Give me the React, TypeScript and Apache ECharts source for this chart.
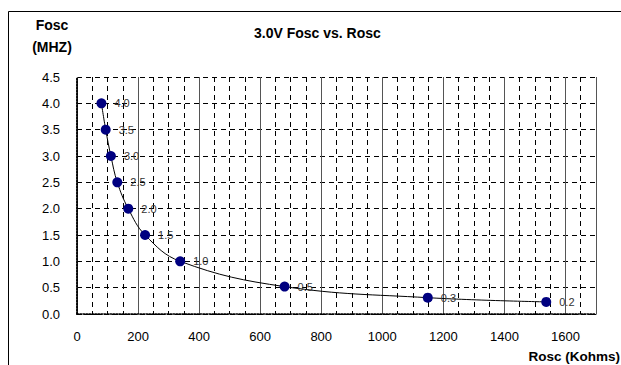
import React, { useEffect, useRef } from "react";
import * as echarts from "echarts";

const roscValues = [80, 94, 111, 132, 168, 223, 338, 680, 1149, 1537];
const foscValues = [4.0, 3.5, 3.0, 2.5, 2.0, 1.5, 1.0, 0.52, 0.31, 0.23];
const pointLabels = ["4.0", "3.5", "3.0", "2.5", "2.0", "1.5", "1.0", "0.5", "0.3", "0.2"];
const titleText = "3.0V Fosc vs. Rosc";
const yName = "Fosc\n(MHZ)";
const xName = "Rosc (Kohms)";

export default function App() {
  const ref = useRef<HTMLDivElement>(null);
  useEffect(() => {
    if (!ref.current) return;
    const chart = echarts.init(ref.current, null, { renderer: "svg" });
    const font = "Arial, 'Liberation Sans', sans-serif";
    const data = roscValues.map((x, i) => ({
      value: [x, foscValues[i]],
      label: { formatter: pointLabels[i] },
    }));
    chart.setOption({
      animation: false,
      backgroundColor: "#fff",
      textStyle: { fontFamily: font },
      title: {
        text: titleText,
        left: 249,
        top: 21,
        textStyle: { fontSize: 14, fontWeight: "bold", color: "#000", fontFamily: font },
      },
      graphic: [
        {
          type: "rect",
          shape: { x: 8.5, y: 11.5, width: 700, height: 400 },
          style: { fill: "none", stroke: "#000", lineWidth: 1 },
          silent: true,
        },
        {
          type: "text",
          x: 52,
          y: 14,
          style: {
            text: yName,
            textAlign: "center",
            font: `bold 14px ${font}`,
            lineHeight: 22,
            fill: "#000",
          },
        },
        {
          type: "text",
          x: 620,
          y: 349,
          style: {
            text: xName,
            textAlign: "right",
            font: `bold 13.5px ${font}`,
            fill: "#000",
          },
        },
      ],
      grid: { left: 77, top: 77, right: 25, bottom: 51 },
      xAxis: [
        {
          type: "value",
          min: 0,
          max: 1700,
          interval: 200,
          axisLine: { show: true, onZero: false, lineStyle: { color: "#000", type: "dotted", width: 1.5 } },
          axisTick: { show: false },
          axisLabel: {
            showMaxLabel: false,
            color: "#000",
            fontSize: 13,
            margin: 16,
            fontFamily: font,
            formatter: (v: number) => String(v),
          },
          splitLine: { show: true, lineStyle: { color: "#555", type: "solid", width: 1 } },
          minorTick: { show: false, splitNumber: 4 },
          minorSplitLine: { show: true, lineStyle: { color: "#000", type: [5, 4], width: 1 } },
        },
        {
          type: "value",
          position: "top",
          min: 0,
          max: 1700,
          axisLine: { show: true, lineStyle: { color: "#000", type: [4, 3], width: 1 } },
          axisTick: { show: false },
          axisLabel: { show: false },
          splitLine: { show: false },
        },
      ],
      yAxis: [
        {
          type: "value",
          min: 0,
          max: 4.5,
          interval: 0.5,
          axisLine: { show: true, onZero: false, lineStyle: { color: "#000", type: "dotted", width: 1.5 } },
          axisTick: { show: false },
          axisLabel: {
            color: "#000",
            fontSize: 13,
            margin: 17,
            fontFamily: font,
            formatter: (v: number) => v.toFixed(1),
          },
          splitLine: { show: true, lineStyle: { color: "#000", type: [5, 4], width: 1 } },
        },
        {
          type: "value",
          position: "right",
          min: 0,
          max: 4.5,
          axisLine: { show: true, lineStyle: { color: "#000", type: "dotted", width: 1.5 } },
          axisTick: { show: false },
          axisLabel: { show: false },
          splitLine: { show: false },
        },
      ],
      series: [
        {
          type: "line",
          xAxisIndex: 0,
          yAxisIndex: 0,
          data,
          smooth: 0.4,
          symbol: "circle",
          symbolSize: 10,
          itemStyle: { color: "#000080" },
          lineStyle: { color: "#000", width: 1 },
          label: {
            show: true,
            position: "right",
            distance: 8,
            color: "#333",
            fontSize: 11,
            fontFamily: font,
          },
        },
      ],
    });
    return () => chart.dispose();
  }, []);
  return (
    <div
      ref={ref}
      style={{ position: "absolute", left: 0, top: 0, width: 621, height: 365 }}
    />
  );
}
